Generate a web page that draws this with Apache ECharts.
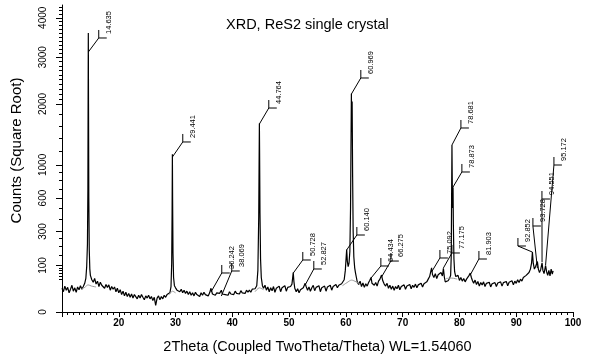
<!DOCTYPE html>
<html>
<head>
<meta charset="utf-8">
<script src="https://cdn.jsdelivr.net/npm/echarts@6/dist/echarts.min.js"></script>
<style>html,body{margin:0;padding:0;background:#fff}#c{width:600px;height:360px}</style>
</head>
<body>
<div id="c"></div>
<script>
// ---- data (2Theta in degrees, counts) ----
const scan = [
[10.00,26],[10.25,19],[10.50,31],[10.75,22],[11.00,28],[11.25,17],[11.50,24],[11.75,33],[12.00,20],[12.25,27],
[12.50,18],[12.75,29],[13.00,23],[13.25,32],[13.50,24],[13.75,30],[14.00,38],[14.20,52],[14.35,95],[14.48,210],
[14.56,700],[14.60,2100],[14.635,3600],[14.67,2000],[14.72,600],[14.80,180],[14.90,85],[15.00,62],[15.25,48],[15.50,41],
[15.75,52],[16.00,36],[16.25,44],[16.50,30],[16.75,41],[17.00,33],[17.25,38],[17.50,26],[17.75,35],[18.00,28],
[18.25,34],[18.50,22],[18.75,30],[19.00,24],[19.25,29],[19.50,19],[19.75,26],[20.00,17],[20.25,23],[20.50,14],
[20.75,20],[21.00,12],[21.25,18],[21.50,11],[21.75,16],[22.00,10],[22.25,15],[22.50,9],[22.75,14],[23.00,11],
[23.25,8],[23.50,13],[23.75,9],[24.00,14],[24.25,10],[24.50,7],[24.75,12],[25.00,9],[25.25,13],[25.50,8],
[25.75,11],[26.00,6],[26.25,10],[26.50,2],[26.75,9],[27.00,12],[27.25,7],[27.50,11],[27.75,8],[28.00,13],
[28.25,10],[28.50,14],[28.75,11],[29.00,17],[29.20,30],[29.32,110],[29.39,450],[29.441,1150],[29.48,600],[29.55,160],
[29.65,55],[29.80,32],[30.00,27],[30.25,22],[30.50,26],[30.75,19],[31.00,24],[31.25,17],[31.50,22],[31.75,16],
[32.00,20],[32.25,14],[32.50,19],[32.75,13],[33.00,17],[33.25,12],[33.50,18],[33.75,14],[34.00,16],[34.25,11],
[34.50,17],[34.75,13],[35.00,18],[35.25,14],[35.50,16],[35.75,12],[36.00,17],[36.242,26],[36.50,15],[36.75,18],
[37.00,13],[37.25,17],[37.50,14],[37.75,16],[38.069,22],[38.25,15],[38.50,18],[38.75,14],[39.00,17],[39.25,13],
[39.50,19],[39.75,15],[40.00,18],[40.25,14],[40.50,20],[40.75,16],[41.00,19],[41.25,15],[41.50,21],[41.75,17],
[42.00,20],[42.25,16],[42.50,22],[42.75,18],[43.00,22],[43.25,18],[43.50,24],[43.75,20],[44.00,25],[44.30,32],
[44.50,80],[44.65,420],[44.72,1100],[44.764,1640],[44.80,1200],[44.87,450],[44.97,130],[45.10,55],[45.30,32],[45.50,26],
[45.75,33],[46.00,22],[46.25,29],[46.50,19],[46.75,27],[47.00,21],[47.25,30],[47.50,18],[47.75,26],[48.00,22],
[48.25,31],[48.50,19],[48.75,27],[49.00,23],[49.25,32],[49.50,20],[49.75,28],[50.00,24],[50.25,30],[50.50,36],
[50.65,58],[50.728,72],[50.85,42],[51.00,26],[51.25,19],[51.50,25],[51.75,17],[52.00,23],[52.25,20],[52.50,27],
[52.827,38],[53.00,30],[53.25,22],[53.50,29],[53.75,20],[54.00,27],[54.25,33],[54.50,21],[54.75,28],[55.00,24],
[55.25,32],[55.50,19],[55.75,27],[56.00,23],[56.25,31],[56.50,20],[56.75,29],[57.00,25],[57.25,33],[57.50,22],
[57.75,30],[58.00,26],[58.25,35],[58.50,27],[58.75,33],[59.00,29],[59.25,37],[59.50,34],[59.70,48],[59.90,80],
[60.05,140],[60.14,180],[60.25,120],[60.40,95],[60.55,110],[60.70,170],[60.82,500],[60.90,1300],[60.969,2200],[61.03,1500],
[61.10,2050],[61.18,900],[61.28,300],[61.40,140],[61.55,90],[61.70,70],[61.85,55],[62.00,42],[62.25,35],[62.50,44],
[62.75,30],[63.00,39],[63.25,28],[63.50,37],[63.75,31],[64.00,40],[64.20,46],[64.434,55],[64.60,38],[64.80,42],
[65.00,33],[65.25,40],[65.50,31],[65.75,44],[66.00,50],[66.275,63],[66.50,45],[66.75,36],[67.00,31],[67.25,38],
[67.50,26],[67.75,33],[68.00,24],[68.25,31],[68.50,22],[68.75,30],[69.00,25],[69.25,33],[69.50,23],[69.75,30],
[70.00,26],[70.25,34],[70.50,24],[70.75,31],[71.00,27],[71.25,35],[71.50,25],[71.75,33],[72.00,28],[72.25,36],
[72.50,27],[72.75,34],[73.00,30],[73.25,38],[73.50,29],[73.75,37],[74.00,33],[74.25,42],[74.50,50],[74.75,58],
[75.092,90],[75.25,65],[75.50,55],[75.75,68],[76.00,52],[76.25,64],[76.50,58],[76.75,72],[77.00,60],[77.175,88],
[77.35,55],[77.50,42],[77.75,40],[78.00,45],[78.25,52],[78.45,62],[78.55,140],[78.62,600],[78.681,1290],[78.72,900],
[78.78,500],[78.873,720],[78.93,350],[79.03,130],[79.15,75],[79.35,58],[79.50,52],[79.75,62],[80.00,46],[80.25,55],
[80.50,44],[80.75,52],[81.00,42],[81.25,50],[81.50,55],[81.70,62],[81.903,70],[82.10,55],[82.30,45],[82.50,38],
[82.75,47],[83.00,35],[83.25,43],[83.50,31],[83.75,40],[84.00,34],[84.25,42],[84.50,30],[84.75,38],[85.00,33],
[85.25,41],[85.50,29],[85.75,37],[86.00,32],[86.25,40],[86.50,30],[86.75,39],[87.00,34],[87.25,42],[87.50,31],
[87.75,40],[88.00,35],[88.25,43],[88.50,32],[88.75,41],[89.00,36],[89.25,45],[89.50,34],[89.75,44],[90.00,38],
[90.25,48],[90.50,40],[90.75,50],[91.00,44],[91.25,55],[91.50,50],[91.75,62],[92.00,58],[92.25,72],[92.50,85],
[92.70,110],[92.852,166],[93.00,110],[93.20,85],[93.40,95],[93.60,100],[93.728,118],[93.90,85],[94.10,72],[94.30,82],
[94.551,112],[94.70,80],[94.90,68],[95.172,100],[95.35,75],[95.55,62],[95.75,80],[95.95,60],[96.15,85],[96.35,66],
[96.50,78]
];

// grey background humps under the peaks (one segment each)
const backgroundSegments = [
  [[13.4,24],[14.0,28],[14.6,34],[15.2,31],[16.0,29]],
  [[28.9,14],[29.44,20],[30.0,17]],
  [[44.0,19],[44.76,27],[45.5,23]],
  [[59.4,32],[60.2,40],[61.0,47],[61.8,42],[62.5,36]],
  [[77.6,52],[78.7,53],[79.6,50]]
];

// peak markers
const peakLabels   = ['14.635','29.441','36.242','38.069','44.764','50.728','52.827','60.140','60.969','64.434','66.275','75.092','77.175','78.681','78.873','81.903','92.852','93.728','94.551','95.172'];
const peakPos      = [14.635,29.441,36.242,38.069,44.764,50.728,52.827,60.140,60.969,64.434,66.275,75.092,77.175,78.681,78.873,81.903,92.852,93.728,94.551,95.172];
const markerCounts = [3124,1110,18.5,11.8,1633,70,33.7,178,2196,53.4,56.6,74,89.5,1289,722,63.3,166,89.5,115.5,102];
const labelPos     = [16.47,31.27,38.14,39.90,46.42,52.41,54.35,61.93,62.63,66.16,67.92,76.56,78.67,80.26,80.43,83.43,90.30,92.94,94.53,96.64];
const labelCounts  = [3470,1336,70.3,77.7,1923,125,85.5,274,2531,97.8,120,134.8,160.9,1565,906,129.8,201.3,341.8,590,998.7];

// axis ticks (counts)
const yTicks = [0,100,300,600,1000,2000,3000,4000];
const yMinorTicks = [50,60,70,80,90,150,200,250,400,500,700,800,900,1200,1400,1600,1800,
  2100,2200,2300,2400,2500,2600,2700,2800,2900,3100,3200,3300,3400,3500,3600,3700,3800,3900,4100,4200,4300];

const FONT = '"Liberation Sans", Arial, sans-serif';
const sq = v => Math.sqrt(v);

const chart = echarts.init(document.getElementById('c'), null, {renderer: 'canvas'});

const markerData = peakPos.map((p, i) => [p, sq(markerCounts[i]), labelPos[i], sq(labelCounts[i])]);

const bgSeries = backgroundSegments.map(seg => ({
  type: 'line',
  data: seg.map(d => [d[0], sq(d[1])]),
  showSymbol: false, symbol: 'none', smooth: 0.3,
  lineStyle: {color: '#9a9a9a', width: 1},
  z: 3
}));

chart.setOption({
  animation: false,
  backgroundColor: '#fff',
  title: {
    text: 'XRD, ReS2 single crystal',
    left: 221, top: 12,
    textStyle: {fontFamily: FONT, fontSize: 14.5, fontWeight: 'normal', color: '#000'}
  },
  grid: {left: 62, right: 27, top: 5, bottom: 48},
  xAxis: {
    type: 'value', min: 10, max: 100, interval: 10,
    name: '2Theta (Coupled TwoTheta/Theta) WL=1.54060',
    nameLocation: 'middle', nameGap: 27,
    nameTextStyle: {fontFamily: FONT, fontSize: 14.5, color: '#000'},
    axisLine: {show: true, onZero: false, lineStyle: {color: '#000', width: 1}},
    axisTick: {show: true, inside: false, length: 5, lineStyle: {color: '#000'}},
    minorTick: {show: true, splitNumber: 10, length: 3, lineStyle: {color: '#000'}},
    splitLine: {show: false},
    axisLabel: {
      fontFamily: FONT, fontSize: 10, fontWeight: 'bold', color: '#000', margin: 6,
      formatter: v => (v === 10 ? '' : String(v))
    }
  },
  yAxis: [{
    type: 'value', min: 0, max: 66,
    name: 'Counts (Square Root)',
    nameLocation: 'middle', nameGap: 38, nameRotate: 90,
    nameTextStyle: {fontFamily: FONT, fontSize: 15, color: '#000', padding: [0, 0, 0, 16]},
    axisLine: {show: true, onZero: false, lineStyle: {color: '#000', width: 1}},
    axisTick: {show: true, inside: false, length: 6, customValues: yTicks.map(sq), lineStyle: {color: '#000'}},
    splitLine: {show: false},
    axisLabel: {
      customValues: yTicks.map(sq), rotate: 90, margin: 14,
      fontFamily: FONT, fontSize: 10, color: '#000',
      formatter: v => String(Math.round(v * v))
    }
  }, {
    type: 'value', min: 0, max: 66, position: 'left',
    axisLine: {show: false},
    axisTick: {show: true, inside: false, length: 3, customValues: yMinorTicks.map(sq), lineStyle: {color: '#000'}},
    axisLabel: {show: false},
    splitLine: {show: false}
  }],
  series: [{
    type: 'line',
    data: scan.map(d => [d[0], sq(d[1])]),
    showSymbol: false, symbol: 'none',
    lineStyle: {color: '#000', width: 1.2},
    z: 2
  }].concat(bgSeries, [{
    type: 'custom',
    data: markerData,
    z: 4,
    renderItem: (params, api) => {
      const i = params.dataIndex;
      const A = api.coord([api.value(0), api.value(1)]);
      const B = api.coord([api.value(2), api.value(3)]);
      return {
        type: 'group',
        children: [
          {type: 'polyline', shape: {points: [A, B, [B[0], B[1] - 8]]},
           style: {stroke: '#000', fill: null, lineWidth: 1}},
          {type: 'line', shape: {x1: B[0], y1: B[1], x2: B[0] + 8, y2: B[1]},
           style: {stroke: '#000', lineWidth: 1}},
          {type: 'text', x: B[0] + 10, y: B[1] - 4, rotation: Math.PI / 2,
           style: {text: peakLabels[i], fontSize: 7.5, fontFamily: FONT, fill: '#000',
                   align: 'left', verticalAlign: 'middle'}}
        ]
      };
    }
  }])
});
</script>
</body>
</html>
